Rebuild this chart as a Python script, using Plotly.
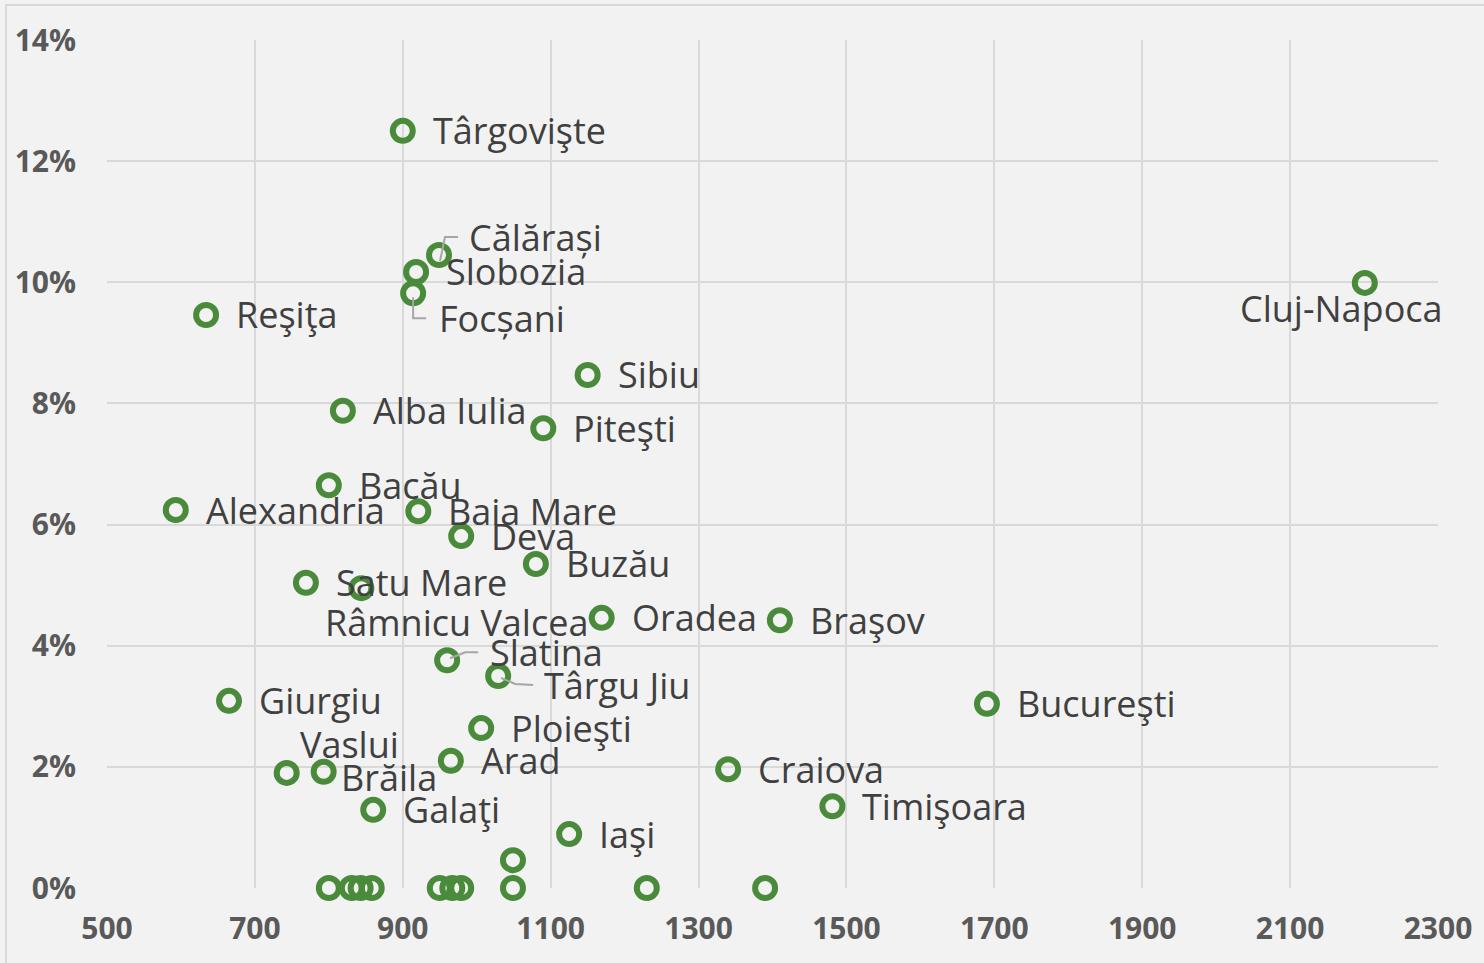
import plotly.graph_objects as go

# ---- data ----
cities = ["Târgovişte", "Călărași", "Slobozia", "Focșani", "Reşiţa", "Cluj-Napoca",
          "Sibiu", "Alba Iulia", "Piteşti", "Bacău", "Alexandria", "Baia Mare",
          "Deva", "Buzău", "Satu Mare", "Râmnicu Valcea", "Oradea", "Braşov",
          "Slatina", "Târgu Jiu", "Giurgiu", "Bucureşti", "Ploieşti", "Arad",
          "Craiova", "Vaslui", "Brăila", "Galaţi", "Timişoara", "Iaşi",
          "", "", "", "", "", "", "", "", "", "", ""]
x_values = [900, 949, 918, 914, 634, 2201,
            1150, 819, 1090, 800, 593, 921,
            979, 1080, 769, 844, 1169, 1410,
            960, 1029, 665, 1690, 1006, 965,
            1340, 743, 793, 860, 1481, 1125,
            1049, 800, 831, 843, 858, 950, 967, 979, 1049, 1230, 1390]
y_values = [0.125, 0.1045, 0.1017, 0.0982, 0.0946, 0.0999,
            0.0847, 0.0788, 0.0759, 0.0665, 0.0624, 0.0622,
            0.0581, 0.0535, 0.0504, 0.0495, 0.0446, 0.0442,
            0.0376, 0.0350, 0.0309, 0.0304, 0.0264, 0.0210,
            0.0196, 0.0190, 0.0192, 0.0129, 0.0135, 0.0089,
            0.0046, 0, 0, 0, 0, 0, 0, 0, 0, 0, 0]
x_ticks = [500, 700, 900, 1100, 1300, 1500, 1700, 1900, 2100, 2300]
y_ticks = [0, 0.02, 0.04, 0.06, 0.08, 0.10, 0.12, 0.14]

# ---- label placement (screen pixel offsets from the marker: xanchor, dx, dy down) ----
default_offset = ("left", 28, 0)
label_offsets = {
    "Călărași": ("left", 28, -18),
    "Focșani": ("left", 24, 25),
    "Cluj-Napoca": ("center", -23, 26),
    "Râmnicu Valcea": ("center", 95, 34),
    "Slatina": ("left", 41, -8),
    "Târgu Jiu": ("left", 44, 9),
    "Vaslui": ("center", 63, -28),
    "Brăila": ("left", 15, 6),
}
# leader lines as polylines of screen pixel offsets (y down)
leaders = {
    "Călărași": [(1, 6), (6, -18), (19, -18)],
    "Focșani": [(0, 4), (0, 25), (13, 25)],
    "Slatina": [(3, -2), (18, -8), (31, -8)],
    "Târgu Jiu": [(3, 2), (17, 8), (35, 9)],
}

GREEN = "#4a8b3b"
TEXT = "#404040"
TICK = "#595959"
GRID = "#D9D9D9"
BG = "#F2F2F2"

fig = go.Figure()
fig.add_trace(go.Scatter(
    x=x_values, y=y_values, mode="markers", text=cities,
    marker=dict(symbol="circle-open", size=20, color=GREEN,
                line=dict(width=6, color=GREEN)),
    cliponaxis=False, hoverinfo="text+x+y", showlegend=False,
))

annotations = []
shapes = []
for name, xv, yv in zip(cities, x_values, y_values):
    if not name:
        continue
    anchor, dx, dy = label_offsets.get(name, default_offset)
    annotations.append(dict(
        x=xv, y=yv, xref="x", yref="y", text=name, showarrow=False,
        xanchor=anchor, yanchor="middle", xshift=dx, yshift=-dy,
        font=dict(family="Open Sans", size=36, color=TEXT),
    ))
    if name in leaders:
        pts = leaders[name]
        path = "M " + " L ".join(f"{px},{-py}" for px, py in pts)
        shapes.append(dict(
            type="path", path=path, xref="x", yref="y",
            xsizemode="pixel", ysizemode="pixel", xanchor=xv, yanchor=yv,
            line=dict(color="#A6A6A6", width=2), layer="above",
        ))

# outer chart border
W, H = 1484, 963
L, R, T, B = 107, 46, 40, 75
pw, ph = W - L - R, H - T - B
shapes.append(dict(
    type="rect", xref="paper", yref="paper",
    x0=(6 - L) / pw, x1=(W + 10 - L) / pw,
    y0=-(B + 10) / ph, y1=(H - B - 5) / ph,
    line=dict(color=GRID, width=2), fillcolor="rgba(0,0,0,0)", layer="below",
))

axis_font = dict(family="Open Sans", size=30, color=TICK, weight=700)
fig.update_layout(
    width=W, height=H,
    margin=dict(l=L, r=R, t=T, b=B, pad=0),
    paper_bgcolor=BG, plot_bgcolor=BG,
    annotations=annotations, shapes=shapes,
    xaxis=dict(range=[500, 2300], tickvals=x_ticks, showgrid=True,
               gridcolor=GRID, gridwidth=2, zeroline=False, showline=False,
               ticks="", tickfont=axis_font, ticklabelstandoff=20),
    yaxis=dict(range=[0, 0.14], tickvals=y_ticks, tickformat=".0%",
               showgrid=True, gridcolor=GRID, gridwidth=2, zeroline=False,
               showline=False, ticks="", tickfont=axis_font,
               ticklabelstandoff=30),
)

fig.write_html(
    "out.html",
    config={"displayModeBar": False},
    post_script="document.body.style.margin='0';document.body.style.overflow='hidden';"
                "document.body.style.background='#F2F2F2';",
)
